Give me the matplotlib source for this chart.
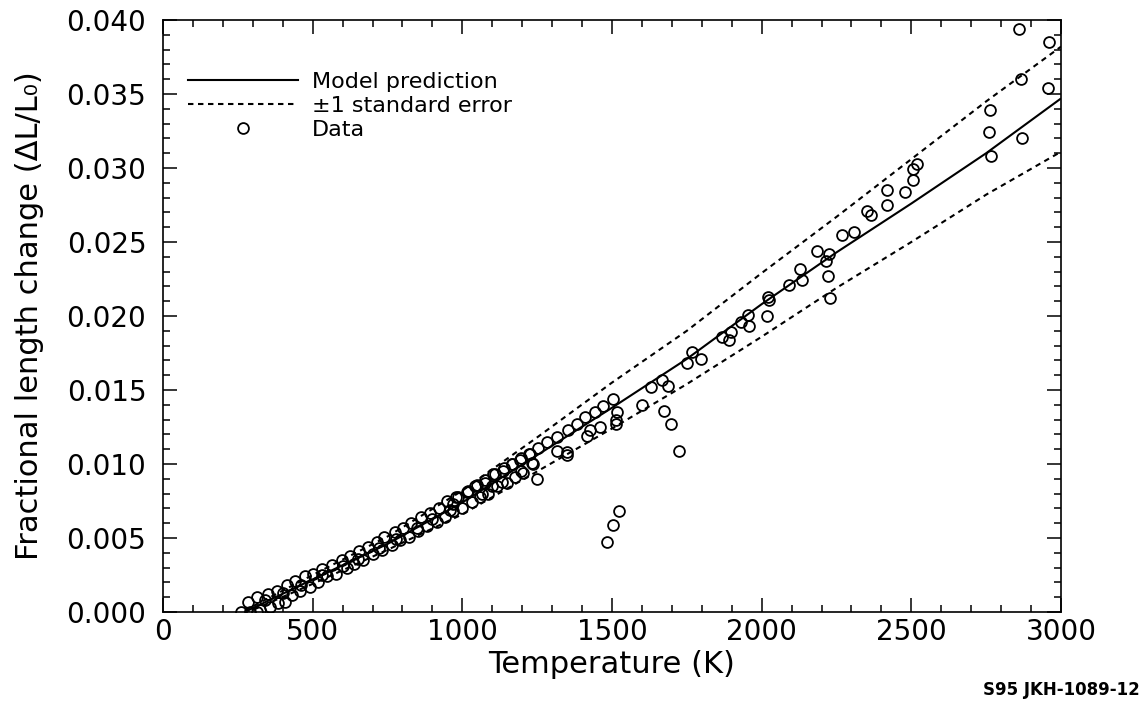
import matplotlib
matplotlib.use("Agg")
import matplotlib.pyplot as plt
from matplotlib.lines import Line2D
from matplotlib.ticker import MultipleLocator
import numpy as np

plt.rcParams['font.family'] = ['DejaVu Sans']

# ---- model curve and +/-1 standard error band ----
model_T = [273, 500, 750, 1000, 1250, 1500, 1750, 2000, 2250, 2500, 2750, 3000]
model_y = [0.0000, 0.0022, 0.0046, 0.0074, 0.0106, 0.0138, 0.0171, 0.0208, 0.0243, 0.0276, 0.0310, 0.0347]
upper_y = [0.0001, 0.0025, 0.0051, 0.0082, 0.0118, 0.0155, 0.0190, 0.0229, 0.0267, 0.0306, 0.0345, 0.0382]
lower_y = [-0.0001, 0.0019, 0.0042, 0.0066, 0.0095, 0.0124, 0.0154, 0.0186, 0.0219, 0.0250, 0.0282, 0.0311]

# ---- data points (temperature K, fractional length change x1e-3) ----
data_T = [
    260, 285, 313, 315, 352, 380, 413, 441, 474, 502, 532, 564, 597, 625, 656, 686, 714, 738,
    775, 801, 828, 861, 892, 923, 950, 979, 1015, 1042, 1076, 1104, 1135, 1165, 1193, 1226,
    291, 324, 357, 385, 408, 430, 458, 491, 519, 547, 578, 614, 638, 669, 703, 731, 764, 792,
    823, 853, 881, 914, 942, 968, 998, 1031, 1059, 1087, 1117, 1148, 1176, 1204, 1232,
    340, 400, 460, 530, 600, 650, 720, 780, 850, 900, 960,
    986, 1020, 1048, 1076, 1109, 1139, 1165, 1195, 1224, 1254, 1284, 1315, 1354, 1382,
    1410, 1443, 1471, 1502, 970, 1065, 1098, 1131, 1195, 1235, 1251,
    1518, 1512, 1515, 1460, 1427, 1418, 1315, 1351, 1349,
    1523, 1504, 1483, 1599, 1629, 1666, 1688, 1674, 1697, 1725,
    1750, 1766, 1797, 1867, 1892, 1898, 1930, 1956, 1958, 2019, 2022, 2025, 2091, 2128, 2136,
    2184, 2214, 2223, 2226, 2228, 2267, 2309, 2351, 2364, 2420, 2420, 2479, 2505, 2505, 2518,
    2760, 2762, 2766, 2861, 2867, 2869, 2958, 2960,
]
data_v = [
    0.0, 0.7, 0.0, 1.0, 1.2, 1.4, 1.8, 2.1, 2.4, 2.6, 2.9, 3.2, 3.5, 3.8, 4.1, 4.4, 4.7, 5.1,
    5.4, 5.7, 6.0, 6.4, 6.7, 7.0, 7.5, 7.75, 8.1, 8.5, 8.7, 9.3, 9.5, 10.0, 10.3, 10.7,
    0.0, 0.15, 0.36, 0.6, 0.7, 1.15, 1.45, 1.7, 2.05, 2.4, 2.6, 2.95, 3.25, 3.5, 3.95, 4.2, 4.5, 4.85,
    5.1, 5.5, 5.8, 6.1, 6.45, 6.85, 7.0, 7.45, 7.75, 8.0, 8.5, 8.7, 9.1, 9.4, 10.05,
    0.8, 1.3, 1.8, 2.5, 3.1, 3.6, 4.3, 4.9, 5.7, 6.3, 6.9,
    7.8, 8.2, 8.6, 8.9, 9.3, 9.7, 10.0, 10.4, 10.7, 11.1, 11.5, 11.8, 12.3, 12.7,
    13.2, 13.5, 13.9, 14.4, 7.3, 8.0, 8.5, 8.8, 9.5, 10.0, 9.0,
    13.5, 13.0, 12.7, 12.5, 12.3, 11.9, 10.9, 10.6, 10.8,
    6.8, 5.9, 4.7, 14.0, 15.2, 15.7, 15.3, 13.6, 12.7, 10.9,
    16.8, 17.6, 17.1, 18.6, 18.4, 18.9, 19.6, 20.1, 19.3, 20.0, 21.3, 21.1, 22.1, 23.2, 22.4,
    24.4, 23.7, 22.7, 24.2, 21.2, 25.5, 25.7, 27.1, 26.8, 28.5, 27.5, 28.4, 29.9, 29.2, 30.3,
    32.4, 33.9, 30.8, 39.4, 36.0, 32.0, 35.4, 38.5,
]
data_y = [v * 1e-3 for v in data_v]

x_ticks = [0, 500, 1000, 1500, 2000, 2500, 3000]
y_ticks = [0.000, 0.005, 0.010, 0.015, 0.020, 0.025, 0.030, 0.035, 0.040]
y_ticklabels = ["0.000", "0.005", "0.010", "0.015", "0.020", "0.025", "0.030", "0.035", "0.040"]

fig = plt.figure(figsize=(11.47, 7.08), dpi=100)
ax = fig.add_axes([163 / 1147, 1 - 612 / 708, (1061 - 163) / 1147, (612 - 20) / 708])

dash = (0, (2.6, 2.2))
ax.plot(model_T, model_y, color='black', lw=1.5, solid_capstyle='butt')
ax.plot(model_T, upper_y, color='black', lw=1.5, linestyle=dash)
ax.plot(model_T, lower_y, color='black', lw=1.5, linestyle=dash)
ax.plot(data_T, data_y, linestyle='none', marker='o', ms=7.8, mfc='none', mec='black', mew=1.3)

ax.set_xlim(0, 3000)
ax.set_ylim(0, 0.040)
ax.set_xticks(x_ticks)
ax.set_xticklabels([str(t) for t in x_ticks])
ax.set_yticks(y_ticks)
ax.set_yticklabels(y_ticklabels)
ax.xaxis.set_minor_locator(MultipleLocator(100))
ax.yaxis.set_minor_locator(MultipleLocator(0.001))
ax.tick_params(which='both', direction='in', top=True, right=True, width=1.1, colors='black')
ax.tick_params(which='major', length=10, labelsize=20)
ax.tick_params(axis='x', which='major', pad=4)
ax.tick_params(axis='y', which='major', pad=12)
ax.tick_params(which='minor', length=5)
for s in ax.spines.values():
    s.set_linewidth(1.2)

ax.set_xlabel("Temperature (K)", fontsize=22, labelpad=3)
ax.set_ylabel("Fractional length change (\u0394L/L\u2080)", fontsize=22)
ax.yaxis.set_label_coords(-0.132, 0.5)

handles = [
    Line2D([], [], color='black', lw=1.5),
    Line2D([], [], color='black', lw=1.5, linestyle=dash),
    Line2D([], [], linestyle='none', marker='o', ms=7.8, mfc='none', mec='black', mew=1.3),
]
labels = ["Model prediction", "\u00b11 standard error", "Data"]
ax.legend(handles, labels, loc='upper left', bbox_to_anchor=(0.028, 0.912), frameon=False,
          borderpad=0, borderaxespad=0,
          fontsize=16, handlelength=4.95, handletextpad=0.63, labelspacing=0.17)

fig.text(0.994, 0.0254, "S95 JKH-1089-12", ha='right', va='center', fontsize=12, fontweight='bold')

fig.savefig("out.png", dpi=100)
